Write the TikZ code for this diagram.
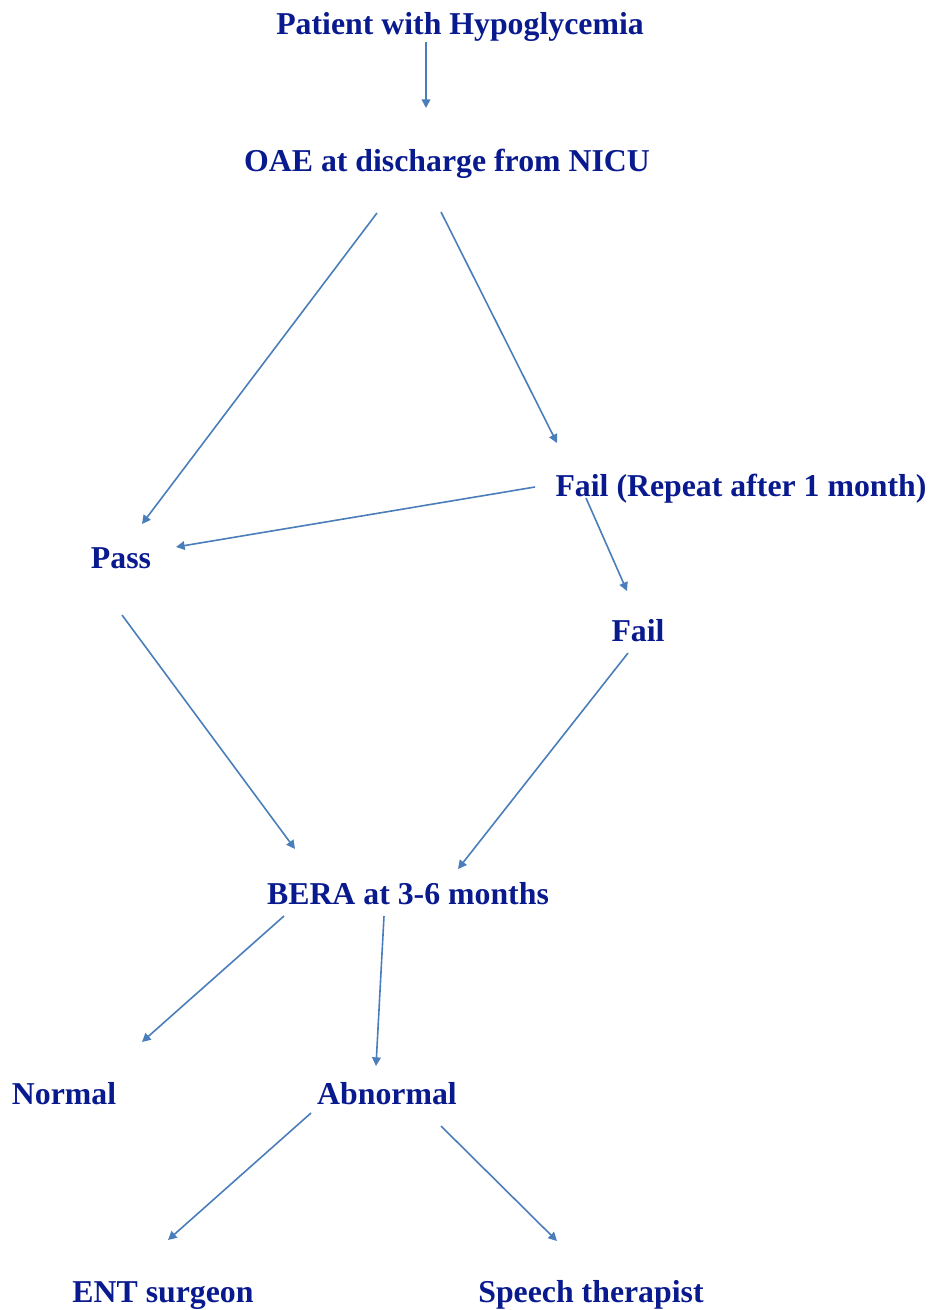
\documentclass[tikz,border=0pt]{standalone}
\usepackage{fontspec}
\setmainfont{Liberation Serif}
\usetikzlibrary{arrows.meta}
\definecolor{txtblue}{RGB}{8,26,142}
\definecolor{lineblue}{RGB}{74,126,187}
\begin{document}
\begin{tikzpicture}[x=0.75pt,y=-0.75pt,
  lbl/.style={anchor=base,inner sep=0pt,text=txtblue,font=\fontsize{23.85}{28}\selectfont\bfseries},
  conn/.style={draw=lineblue,line width=1.2pt,-{Triangle[length=6.5pt,width=6.5pt]}}]
\useasboundingbox (0,0) rectangle (932,1310);
\node[lbl] (patient) at (460,34) {Patient with Hypoglycemia};
\node[lbl] (oae) at (447,171) {OAE at discharge from NICU};
\node[lbl] (failrep) at (741,496) {Fail (Repeat after 1 month)};
\node[lbl] (pass) at (121,568) {Pass};
\node[lbl] (fail) at (638,641) {Fail};
\node[lbl] (bera) at (408,904) {BERA at 3-6 months};
\node[lbl] (normal) at (64,1104) {Normal};
\node[lbl] (abnormal) at (387,1104) {Abnormal};
\node[lbl] (ent) at (163,1302) {ENT surgeon};
\node[lbl] (speech) at (591,1302) {Speech therapist};
% connector end points
\coordinate (c1s) at (426,42);   \coordinate (c1e) at (426,108);
\coordinate (c2s) at (377,213);  \coordinate (c2e) at (142,524);
\coordinate (c3s) at (441,212);  \coordinate (c3e) at (557,443);
\coordinate (c4s) at (535,487);  \coordinate (c4e) at (176,547);
\coordinate (c5s) at (586,498);  \coordinate (c5e) at (627,591);
\coordinate (c6s) at (122,615);  \coordinate (c6e) at (295,849);
\coordinate (c7s) at (628,653);  \coordinate (c7e) at (458,869);
\coordinate (c8s) at (284,916);  \coordinate (c8e) at (142,1042);
\coordinate (c9s) at (384,916);  \coordinate (c9e) at (376,1066);
\coordinate (c10s) at (311,1113); \coordinate (c10e) at (168,1240);
\coordinate (c11s) at (441,1126); \coordinate (c11e) at (557,1241);
\draw[conn] (c1s) -- (c1e);
\draw[conn] (c2s) -- (c2e);
\draw[conn] (c3s) -- (c3e);
\draw[conn] (c4s) -- (c4e);
\draw[conn] (c5s) -- (c5e);
\draw[conn] (c6s) -- (c6e);
\draw[conn] (c7s) -- (c7e);
\draw[conn] (c8s) -- (c8e);
\draw[conn] (c9s) -- (c9e);
\draw[conn] (c10s) -- (c10e);
\draw[conn] (c11s) -- (c11e);
\end{tikzpicture}
\end{document}
